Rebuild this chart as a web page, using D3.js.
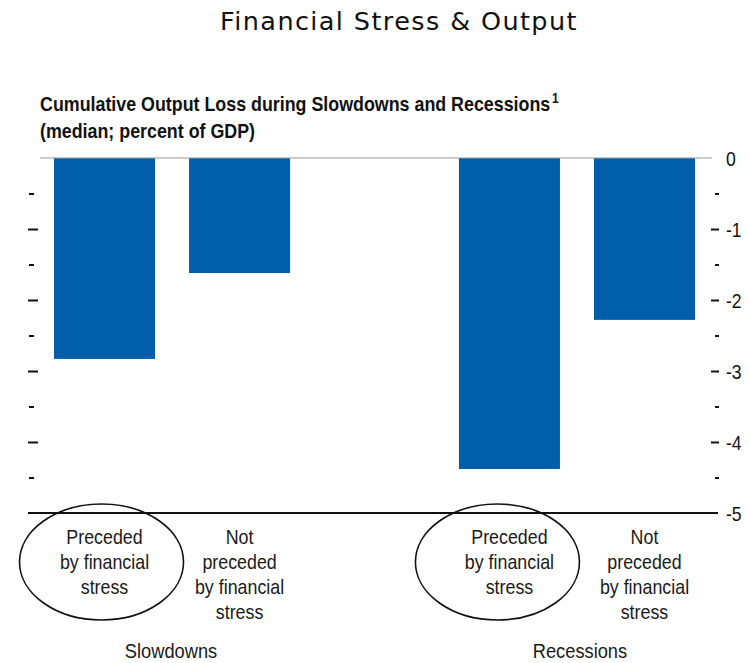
<!DOCTYPE html>
<html>
<head>
<meta charset="utf-8">
<script src="https://cdn.jsdelivr.net/npm/d3@7"></script>
<style>
  html, body { margin: 0; padding: 0; background: #fff; }
  svg { display: block; }
  .narrow { font-family: "Liberation Sans", Arial, sans-serif; }
</style>
</head>
<body>
<svg id="chart" width="749" height="663"></svg>
<script>
// Cumulative output loss, median, percent of GDP
const groups = ["Slowdowns", "Recessions"];
const subgroups = ["Preceded by financial stress", "Not preceded by financial stress"];
const subgroupLines = [["Preceded", "by financial", "stress"], ["Not", "preceded", "by financial", "stress"]];
const slowdownValues = [-2.83, -1.62];
const recessionValues = [-4.38, -2.28];
const yTicks = [0, -0.5, -1, -1.5, -2, -2.5, -3, -3.5, -4, -4.5, -5];
const yTickLabels = ["0", "", "-1", "", "-2", "", "-3", "", "-4", "", "-5"];
// which subgroup gets circled in each group
const circled = ["Preceded by financial stress"];

const data = [];
groups.forEach((g, gi) => {
  const vals = gi === 0 ? slowdownValues : recessionValues;
  subgroups.forEach((s, si) => data.push({ group: g, sub: s, lines: subgroupLines[si], value: vals[si] }));
});

const svg = d3.select("#chart");
const blue = "#005eab";
const condense = 0.85; // horizontal squeeze giving a condensed sans look

// place a text element at (x, y) squeezed horizontally
function narrow(sel, x, y, k = condense) {
  return sel.attr("x", 0).attr("y", 0)
    .attr("transform", `translate(${x},${y}) scale(${k},1)`);
}

const x0 = d3.scaleBand().domain(groups).range([54, 695]).paddingInner(0.417).paddingOuter(0);
const x1 = d3.scaleBand().domain(subgroups).range([0, x0.bandwidth()]).paddingInner(0.252).paddingOuter(0);
const y = d3.scaleLinear().domain([0, -5]).range([158, 513]);

// Title
svg.append("text")
  .attr("x", 399).attr("y", 30)
  .attr("text-anchor", "middle")
  .attr("font-family", "DejaVu Sans, Verdana, sans-serif")
  .attr("font-size", 25.5)
  .attr("letter-spacing", 1.4)
  .attr("fill", "#111")
  .text("Financial Stress & Output");

// Chart heading
const head = narrow(svg.append("text").attr("class", "narrow"), 40, 111, 0.85)
  .attr("font-size", 21).attr("font-weight", "bold").attr("fill", "#111");
head.append("tspan").text("Cumulative Output Loss during Slowdowns and Recessions");
head.append("tspan").attr("dx", 2).attr("dy", -8).attr("font-size", 14).text("1");
narrow(svg.append("text").attr("class", "narrow"), 40, 138, 0.85)
  .attr("font-size", 21).attr("font-weight", "bold").attr("fill", "#111")
  .text("(median; percent of GDP)");

// Bars
svg.append("g").selectAll("rect").data(data).join("rect")
  .attr("x", d => x0(d.group) + x1(d.sub))
  .attr("width", x1.bandwidth())
  .attr("y", d => y(0))
  .attr("height", d => y(d.value) - y(0))
  .attr("fill", blue);

// Zero line
svg.append("line")
  .attr("x1", 40).attr("x2", 712)
  .attr("y1", y(0)).attr("y2", y(0))
  .attr("stroke", "#999").attr("stroke-width", 1.2);

// Baseline at -5
svg.append("line")
  .attr("x1", 28).attr("x2", 718)
  .attr("y1", y(-5)).attr("y2", y(-5))
  .attr("stroke", "#111").attr("stroke-width", 2);

// Left axis: tick marks only
const leftAxis = svg.append("g").attr("transform", "translate(38,0)")
  .call(d3.axisLeft(y).tickValues(yTicks.filter(t => t < 0 && t > -5)).tickFormat("").tickSizeOuter(0));
leftAxis.select(".domain").remove();
leftAxis.selectAll(".tick line")
  .attr("stroke", "#111").attr("stroke-width", 2)
  .attr("x1", d => Number.isInteger(d) ? 0 : -4)
  .attr("x2", d => Number.isInteger(d) ? -10 : -9);

// Right axis: tick marks with labels
const rightAxis = svg.append("g").attr("transform", "translate(711,0)")
  .call(d3.axisRight(y).tickValues(yTicks).tickFormat(d => yTickLabels[yTicks.indexOf(d)]).tickSizeOuter(0));
rightAxis.select(".domain").remove();
rightAxis.selectAll(".tick line")
  .attr("stroke", "#111").attr("stroke-width", 2)
  .attr("x1", d => Number.isInteger(d) ? 0 : 4)
  .attr("x2", d => Number.isInteger(d) ? 8 : 8)
  .filter(d => d === 0 || d === -5).remove();
rightAxis.selectAll(".tick text").each(function () {
  narrow(d3.select(this).attr("class", "narrow"), 15, 0, 0.88)
    .attr("dy", "0.35em").attr("font-size", 20).attr("fill", "#111");
});

// Category labels
data.forEach(d => {
  const cx = x0(d.group) + x1(d.sub) + x1.bandwidth() / 2;
  d.lines.forEach((ln, i) => {
    narrow(svg.append("text").attr("class", "narrow"), cx, 544 + i * 25)
      .attr("text-anchor", "middle").attr("font-size", 21).attr("fill", "#1a1a1a")
      .text(ln);
  });
});

// Group labels
groups.forEach((g, gi) => {
  narrow(svg.append("text").attr("class", "narrow"), x0(g) + x0.bandwidth() / 2 + gi * 4 - 1, 658, 0.87)
    .attr("text-anchor", "middle").attr("font-size", 21).attr("fill", "#1a1a1a")
    .text(g);
});

// Ellipses around the stressed categories
data.filter(d => circled.includes(d.sub)).forEach((d, i) => {
  const cx = x0(d.group) + x1(d.sub) + x1.bandwidth() / 2;
  svg.append("ellipse")
    .attr("cx", cx - 3 - i * 9).attr("cy", 562)
    .attr("rx", 82).attr("ry", 58)
    .attr("fill", "none").attr("stroke", "#111").attr("stroke-width", 1.6);
});
</script>
</body>
</html>
